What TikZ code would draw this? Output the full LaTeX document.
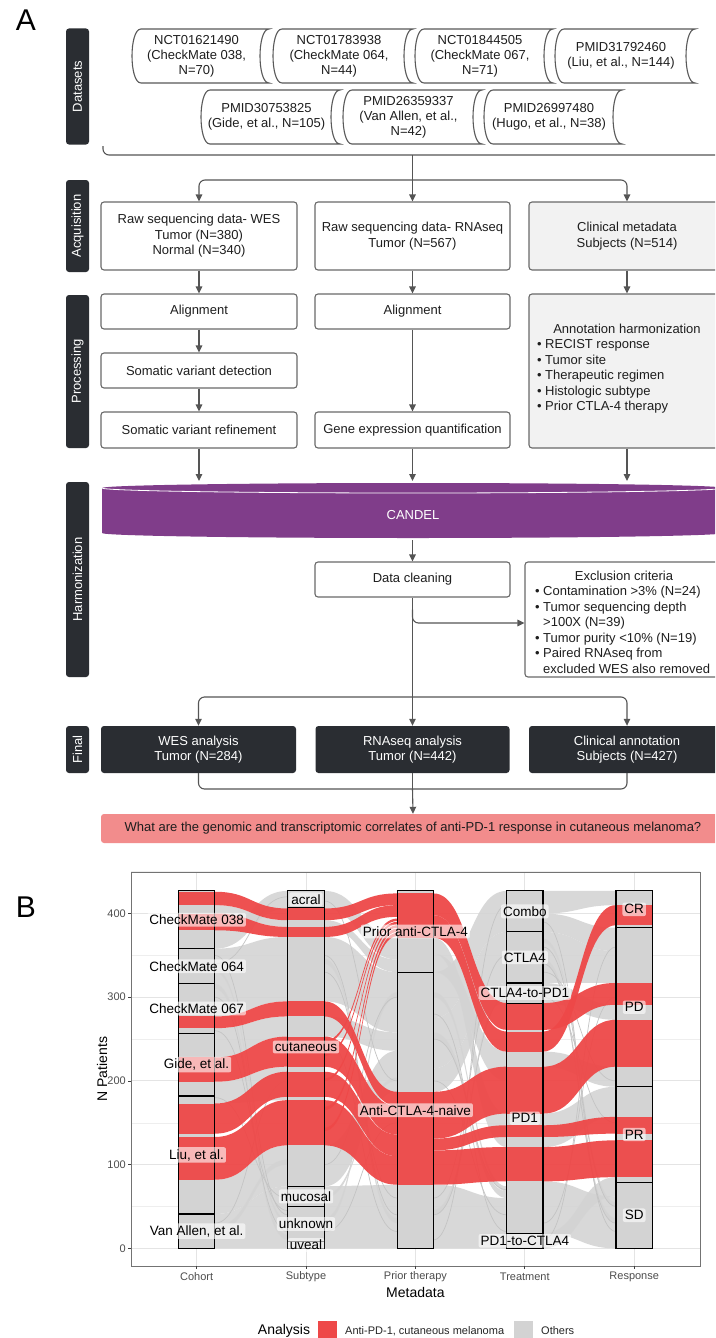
\documentclass[tikz,border=0pt]{standalone}
\usepackage{fontspec}
\setmainfont{Liberation Sans}
\usetikzlibrary{arrows.meta}
\definecolor{dark}{RGB}{42,45,50}
\definecolor{bord}{RGB}{105,105,105}
\definecolor{conncol}{RGB}{85,85,85}
\definecolor{lfill}{RGB}{242,242,242}
\definecolor{candelc}{RGB}{128,61,138}
\definecolor{qpink}{RGB}{242,140,140}
\definecolor{flred}{RGB}{238,72,72}
\definecolor{flgray}{RGB}{211,211,211}
\definecolor{strandc}{RGB}{196,196,196}
\definecolor{gridmajc}{RGB}{228,228,228}
\definecolor{gridminc}{RGB}{238,238,238}
\definecolor{ticktxt}{RGB}{77,77,77}
\definecolor{txt}{RGB}{30,30,30}
\newcommand{\myfs}[2]{\fontsize{#1}{#2}\selectfont}
\newcommand{\mybul}{\makebox[8pt][l]{\textbullet}}
\newcommand{\myind}{\hspace*{8pt}}
% ribbon between two axes: style, x1, x2, a1, b1, a2, b2
\newcommand{\flw}[7]{\fill[#1] (#2,#5) .. controls ({(#2+#3)/2},#5) and ({(#2+#3)/2},#7) .. (#3,#7) -- (#3,#6) .. controls ({(#2+#3)/2},#6) and ({(#2+#3)/2},#4) .. (#2,#4) -- cycle;}
\newcommand{\flA}[5]{\flw{#1}{214.8}{287.8}{#2}{#3}{#4}{#5}}
\newcommand{\flB}[5]{\flw{#1}{324.2}{397.2}{#2}{#3}{#4}{#5}}
\newcommand{\flC}[5]{\flw{#1}{433.6}{506.6}{#2}{#3}{#4}{#5}}
\newcommand{\flD}[5]{\flw{#1}{543.0}{616.0}{#2}{#3}{#4}{#5}}
\newcommand{\strnd}[4]{\draw[gstr] (#1,#3) .. controls ({(#1+#2)/2},#3) and ({(#1+#2)/2},#4) .. (#2,#4);}
% stored-data shape: name, L, R, T, B, text
\newcommand{\dsbox}[6]{%
  \draw[dsline] ({#2+9},#4) -- (#3,#4) .. controls ({#3-12},#4) and ({#3-12},#5) .. (#3,#5) -- ({#2+9},#5) .. controls ({#2-3},#5) and ({#2-3},#4) .. ({#2+9},#4) -- cycle;
  \node[dstext] (#1) at ({(#2+#3)/2-4},{(#4+#5)/2}) {#6};}
\begin{document}
\begin{tikzpicture}[x=1pt,y=-1pt,
  box/.style={draw=bord, line width=1.1pt, rounded corners=3pt, fill=white, align=center, font=\myfs{13}{15.5}, text=txt, inner sep=0pt},
  side/.style={fill=dark, rounded corners=3pt, rotate=90, text=white, font=\myfs{13}{15}, minimum height=23pt, inner sep=0pt},
  fin/.style={fill=dark, rounded corners=3pt, text=white, align=center, font=\myfs{13}{15.5}, inner sep=0pt},
  conn/.style={draw=conncol, line width=1.1pt},
  arr/.style={conn, -{Triangle[length=7pt,width=6.5pt]}},
  dsline/.style={draw=bord!85!black, line width=1.1pt, fill=white},
  dstext/.style={align=center, font=\myfs{13}{15}, text=txt, inner sep=0pt},
  plain/.style={font=\myfs{13}{15.5}, text=txt, inner sep=0pt},
  gfl/.style={fill=flgray, fill opacity=0.88},
  rfl/.style={fill=flred, fill opacity=0.95},
  gstr/.style={draw=strandc, line width=0.7pt},
  strat/.style={draw=black, line width=1.1pt},
  lab/.style={fill=white, fill opacity=0.6, text opacity=1, rounded corners=2pt, inner sep=2pt, font=\myfs{13.5}{15}, text=black},
  gridmaj/.style={draw=gridmajc, line width=0.9pt},
  gridmin/.style={draw=gridminc, line width=0.5pt},
  tick/.style={draw=black!75, line width=0.7pt},
  ticklab/.style={font=\myfs{11}{13}, text=ticktxt, inner sep=0pt}
]
\useasboundingbox (0,0) rectangle (715,1338);
\fill[white] (0,0) rectangle (715,1338);
\clip (0,0) rectangle (715,1338);

% ================= Panel A =================
\node[font=\myfs{30}{32}, inner sep=0pt] (labA) at (26,20) {A};

% side bars
\node[side, minimum width=116pt] (sdata) at (77.5,86.5) {Datasets};
\node[side, minimum width=92pt] (sacq) at (77.5,226) {Acquisition};
\node[side, minimum width=153pt] (sproc) at (77.5,371.5) {Processing};
\node[side, minimum width=195pt] (sharm) at (77.5,579.5) {Harmonization};
\node[side, minimum width=47pt] (sfin) at (77.5,749.5) {Final};

% datasets
\dsbox{ds1}{132}{269}{29}{83}{NCT01621490\\(CheckMate 038,\\N=70)}
\dsbox{ds2}{273}{413}{29}{83}{NCT01783938\\(CheckMate 064,\\N=44)}
\dsbox{ds3}{415}{553}{29}{83}{NCT01844505\\(CheckMate 067,\\N=71)}
\dsbox{ds4}{555}{695}{29}{83}{PMID31792460\\(Liu, et al., N=144)}
\dsbox{ds5}{201}{340}{90}{144}{PMID30753825\\(Gide, et al., N=105)}
\dsbox{ds6}{343}{482}{90}{144}{PMID26359337\\(Van Allen, et al.,\\N=42)}
\dsbox{ds7}{484}{622}{90}{144}{PMID26997480\\(Hugo, et al., N=38)}

% acquisition
\node[box, minimum width=196pt, minimum height=68pt] (wesacq) at (199,236) {Raw sequencing data- WES\\Tumor (N=380)\\Normal (N=340)};
\node[box, minimum width=195pt, minimum height=68pt] (rnaacq) at (412.5,236) {Raw sequencing data- RNAseq\\Tumor (N=567)};
\node[box, fill=lfill, minimum width=196pt, minimum height=68pt] (clinacq) at (627,236) {Clinical metadata\\Subjects (N=514)};

% processing
\node[box, minimum width=196pt, minimum height=35pt] (wesal) at (199,311.5) {Alignment};
\node[box, minimum width=195pt, minimum height=35pt] (rnaal) at (412.5,311.5) {Alignment};
\node[box, minimum width=196pt, minimum height=35pt] (somdet) at (199,370.5) {Somatic variant detection};
\node[box, minimum width=196pt, minimum height=36pt] (somref) at (199,430) {Somatic variant refinement};
\node[box, minimum width=195pt, minimum height=36pt] (geneq) at (412.5,430) {Gene expression quantification};
\node[box, fill=lfill, minimum width=196pt, minimum height=154pt] (annot) at (627,371) {};
\node[plain] (annott) at (627,329) {Annotation harmonization};
\node[plain, anchor=west, align=left] (annotl) at (537,376.5) {\mybul RECIST response\\\mybul Tumor site\\\mybul Therapeutic regimen\\\mybul Histologic subtype\\\mybul Prior CTLA-4 therapy};

% CANDEL
\fill[candelc] (102,488) -- (102,533) arc[start angle=180, end angle=360, x radius=311pt, y radius=5pt] -- (724,488) arc[start angle=0, end angle=180, x radius=311pt, y radius=5pt] -- cycle;
\draw[white, line width=0.8pt] (102,488) arc[start angle=180, end angle=360, x radius=311pt, y radius=5pt];
\node[text=white, font=\myfs{13}{15}, inner sep=0pt] (candel) at (413,515) {CANDEL};
\coordinate (ctop) at (413,481);
\coordinate (cbot) at (412.5,540);

% harmonization
\node[box, minimum width=195pt, minimum height=35pt] (dc) at (412.5,579.5) {Data cleaning};
\node[box, minimum width=205pt, minimum height=115pt] (excl) at (627.5,619.5) {};
\node[plain] (exclt) at (624,576) {Exclusion criteria};
\node[plain, anchor=west, align=left] (excll) at (535,630) {\mybul Contamination >3\% (N=24)\\\mybul Tumor sequencing depth\\\myind >100X (N=39)\\\mybul Tumor purity <10\% (N=19)\\\mybul Paired RNAseq from\\\myind excluded WES also removed};

% final
\node[fin, minimum width=195pt, minimum height=47pt] (wesfin) at (198.5,749.5) {WES analysis\\Tumor (N=284)};
\node[fin, minimum width=194pt, minimum height=47pt] (rnafin) at (412.5,749.5) {RNAseq analysis\\Tumor (N=442)};
\node[fin, minimum width=196pt, minimum height=47pt] (clinfin) at (627,749.5) {Clinical annotation\\Subjects (N=427)};
\node[fill=qpink, rounded corners=3pt, minimum width=624pt, minimum height=29pt, font=\myfs{13}{15}, text=txt, inner sep=0pt] (q) at (413,828.5) {What are the genomic and transcriptomic correlates of anti-PD-1 response in cutaneous melanoma?};

% connectors
\coordinate (brk) at (412.5,155);
\coordinate (dist) at (412.5,180);
\draw[conn, rounded corners=6pt] (103,146) |- (725,155);
\draw[arr] (brk) -- (rnaacq.north);
\draw[arr, rounded corners=6pt] (dist) -| (wesacq.north);
\draw[arr, rounded corners=6pt] (dist) -| (clinacq.north);
\draw[arr] (wesacq.south) -- (wesal.north);
\draw[arr] (rnaacq.south) -- (rnaal.north);
\draw[arr] (clinacq.south) -- (annot.north);
\draw[arr] (wesal.south) -- (somdet.north);
\draw[arr] (somdet.south) -- (somref.north);
\draw[arr] (rnaal.south) -- (geneq.north);
\draw[arr] (somref.south) -- (somref.south |- ctop);
\draw[arr] (geneq.south) -- (geneq.south |- ctop);
\draw[arr] (annot.south) -- (annot.south |- ctop);
\draw[arr] (cbot) -- (dc.north);
\coordinate (hdist) at (412.5,697);
\coordinate (exy) at (0,623);
\draw[conn] (dc.south) -- (hdist);
\draw[arr, rounded corners=6pt] ([yshift=-12pt]dc.south) |- (excl.west |- exy);
\draw[arr] (hdist) -- (rnafin.north);
\draw[arr, rounded corners=6pt] (hdist) -| (wesfin.north);
\draw[arr, rounded corners=6pt] (hdist) -| (clinfin.north);
\coordinate (fm) at (412.5,789);
\draw[conn, rounded corners=6pt] (wesfin.south) |- (fm) -| (clinfin.south);
\draw[conn] (rnafin.south) -- (fm);
\draw[arr] (fm) -- (q.north);

% ================= Panel B =================
\node[font=\myfs{30}{32}, inner sep=0pt] (labB) at (26,907) {B};

\begin{scope}[shift={(0,1248.3)}, y=0.837pt]
  % grid
  \foreach \v in {50,150,250,350,450}{\draw[gridmin] (131,\v) -- (700,\v);}
  \foreach \v in {0,100,200,300,400}{\draw[gridmaj] (131,\v) -- (700,\v);}
  \foreach \xx in {196.6,306,415.4,524.8,634.2}{\draw[gridmaj] (\xx,-21.4) -- (\xx,449.4);}

  % ---- gray flows ----
  \flA{gfl}{0}{41}{0}{74}
  \flA{gfl}{41}{82}{74}{123}
  \flA{gfl}{173}{199}{177}{217}
  \flA{gfl}{228}{263}{253}{277}
  \flA{gfl}{277}{358}{295}{372}
  \flA{gfl}{358}{380}{406}{427}
  \flA{gfl}{400}{410}{384}{392}
  \flA{gfl}{310}{316}{10}{16}
  \flA{gfl}{330}{334}{30}{34}
  \flA{gfl}{20}{26}{100}{106}
  \strnd{214.8}{287.8}{350}{40}
  \strnd{214.8}{287.8}{300}{20}
  \strnd{214.8}{287.8}{340}{420}
  \strnd{214.8}{287.8}{30}{200}
  \strnd{214.8}{287.8}{260}{45}
  \strnd{214.8}{287.8}{180}{60}

  \flB{gfl}{0}{74}{0}{76}
  \flB{gfl}{74}{123}{187}{236}
  \flB{gfl}{253}{277}{236}{258}
  \flB{gfl}{295}{372}{258}{330}
  \flB{gfl}{384}{392}{330}{345}
  \flB{gfl}{406}{427}{345}{371}
  \flB{gfl}{340}{346}{30}{36}
  \flB{gfl}{30}{36}{300}{306}
  \flB{gfl}{60}{64}{200}{204}
  \strnd{324.2}{397.2}{350}{40}
  \strnd{324.2}{397.2}{330}{60}
  \strnd{324.2}{397.2}{100}{300}
  \strnd{324.2}{397.2}{20}{150}
  \strnd{324.2}{397.2}{415}{200}
  \strnd{324.2}{397.2}{250}{20}

  \flC{gfl}{0}{76}{0}{60}
  \flC{gfl}{187}{215}{293}{317}
  \flC{gfl}{215}{275}{317}{378}
  \flC{gfl}{275}{330}{378}{427}
  \flC{gfl}{330}{352}{200}{235}
  \flC{gfl}{352}{371}{121}{161}
  \flC{gfl}{250}{258}{60}{68}
  \flC{gfl}{300}{306}{68}{74}
  \flC{gfl}{40}{46}{300}{306}
  \strnd{433.6}{506.6}{250}{70}
  \strnd{433.6}{506.6}{200}{40}
  \strnd{433.6}{506.6}{60}{350}
  \strnd{433.6}{506.6}{40}{300}
  \strnd{433.6}{506.6}{280}{20}
  \strnd{433.6}{506.6}{10}{410}

  \flD{gfl}{400}{427}{410}{427}
  \flD{gfl}{378}{400}{355}{383}
  \flD{gfl}{317}{378}{317}{355}
  \flD{gfl}{293}{317}{273}{291}
  \flD{gfl}{217}{235}{193}{217}
  \flD{gfl}{121}{161}{157}{193}
  \flD{gfl}{18}{80}{0}{62}
  \flD{gfl}{0}{18}{62}{85}
  \flD{gfl}{340}{346}{30}{36}
  \flD{gfl}{365}{370}{50}{55}
  \strnd{543.0}{616.0}{340}{30}
  \strnd{543.0}{616.0}{360}{50}
  \strnd{543.0}{616.0}{390}{20}
  \strnd{543.0}{616.0}{330}{200}
  \strnd{543.0}{616.0}{30}{300}
  \strnd{543.0}{616.0}{10}{360}
  \strnd{543.0}{616.0}{300}{150}

  % ---- strata fill ----
  \fill[flgray] (178.4,0) rectangle (214.8,427);
  \fill[flgray] (287.8,0) rectangle (324.2,427);
  \fill[flgray] (397.2,0) rectangle (433.6,427);
  \fill[flgray] (506.6,0) rectangle (543.0,427);
  \fill[flgray] (616.0,0) rectangle (652.4,427);

  % ---- red flows ----
  \flA{rfl}{410}{426}{392}{406}
  \flA{rfl}{380}{400}{372}{384}
  \flA{rfl}{263}{277}{277}{295}
  \flA{rfl}{199}{228}{217}{253}
  \flA{rfl}{137}{173}{181}{211}
  \flA{rfl}{82}{133}{123}{177}

  \flB{rfl}{392}{406}{410}{424}
  \flB{rfl}{372}{384}{396}{410}
  \flB{rfl}{277}{295}{170}{187}
  \flB{rfl}{217}{253}{136}{170}
  \flB{rfl}{181}{211}{110}{136}
  \flB{rfl}{123}{177}{76}{110}
  \flB{rfl}{140}{144}{373}{377}
  \flB{rfl}{165}{169}{378}{382}
  \flB{rfl}{200}{203}{383}{386}
  \flB{rfl}{230}{233}{387}{390}
  \flB{rfl}{245}{248}{391}{394}

  \flC{rfl}{398}{424}{261}{293}
  \flC{rfl}{371}{398}{235}{259}
  \flC{rfl}{131}{187}{161}{217}
  \flC{rfl}{117}{131}{133}{147}
  \flC{rfl}{76}{117}{80}{121}

  \flD{rfl}{235}{259}{386}{410}
  \flD{rfl}{261}{293}{291}{317}
  \flD{rfl}{161}{217}{217}{273}
  \flD{rfl}{133}{147}{137}{157}
  \flD{rfl}{80}{121}{85}{129}

  % red lodes in strata
  \foreach \a/\b in {82/133,137/173,199/228,263/277,380/400,410/426}{\fill[rfl] (178.4,\a) rectangle (214.8,\b);}
  \foreach \a/\b in {123/177,181/211,217/253,277/295,372/384,392/406}{\fill[rfl] (287.8,\a) rectangle (324.2,\b);}
  \foreach \a/\b in {76/187,371/424}{\fill[rfl] (397.2,\a) rectangle (433.6,\b);}
  \foreach \a/\b in {80/121,133/147,161/217,235/259,261/293}{\fill[rfl] (506.6,\a) rectangle (543.0,\b);}
  \foreach \a/\b in {85/129,137/157,217/273,291/317,386/410}{\fill[rfl] (616.0,\a) rectangle (652.4,\b);}

  % ---- strata outlines ----
  \draw[strat] (178.4,0) rectangle (214.8,427);
  \foreach \v in {41,182,257,316,358}{\draw[strat] (178.4,\v) -- (214.8,\v);}
  \draw[strat] (287.8,0) rectangle (324.2,427);
  \foreach \v in {8,50,74,407}{\draw[strat] (287.8,\v) -- (324.2,\v);}
  \draw[strat] (397.2,0) rectangle (433.6,427);
  \draw[strat] (397.2,330) -- (433.6,330);
  \draw[strat] (506.6,0) rectangle (543.0,427);
  \foreach \v in {18,293,317,378}{\draw[strat] (506.6,\v) -- (543.0,\v);}
  \draw[strat] (616.0,0) rectangle (652.4,427);
  \foreach \v in {79,193,383}{\draw[strat] (616.0,\v) -- (652.4,\v);}

  % ---- stratum labels ----
  \node[lab] (l1) at (196.6,392.5) {CheckMate 038};
  \node[lab] (l2) at (196.6,337) {CheckMate 064};
  \node[lab] (l3) at (196.6,286.5) {CheckMate 067};
  \node[lab] (l4) at (196.6,219.5) {Gide, et al.};
  \node[lab] (l5) at (196.6,111.5) {Liu, et al.};
  \node[lab] (l6) at (196.6,20.5) {Van Allen, et al.};
  \node[lab] (l7) at (306,417) {acral};
  \node[lab] (l8) at (306,240.5) {cutaneous};
  \node[lab] (l9) at (306,62) {mucosal};
  \node[lab] (l10) at (306,29) {unknown};
  \node[lab] (l11) at (306,4) {uveal};
  \node[lab] (l12) at (415.4,378.5) {Prior anti-CTLA-4};
  \node[lab] (l13) at (415.4,165) {Anti-CTLA-4-naive};
  \node[lab] (l14) at (524.8,402.5) {Combo};
  \node[lab] (l15) at (524.8,347.5) {CTLA4};
  \node[lab] (l16) at (524.8,305) {CTLA4-to-PD1};
  \node[lab] (l17) at (524.8,155.5) {PD1};
  \node[lab] (l18) at (524.8,9) {PD1-to-CTLA4};
  \node[lab] (l19) at (634.2,405) {CR};
  \node[lab] (l20) at (634.2,288) {PD};
  \node[lab] (l21) at (634.2,136) {PR};
  \node[lab] (l22) at (634.2,39.5) {SD};

  % ---- panel border & axes ----
  \draw[draw=black!55, line width=0.8pt] (131,-21.4) rectangle (700,449.4);
  \foreach \v in {0,100,200,300,400}{
    \draw[tick] (128,\v) -- (131,\v);
    \node[ticklab, anchor=east] (yl\v) at (126,\v) {\v};}
  \foreach \xx/\t/\n in {196.6/Cohort/a,306/Subtype/b,415.4/Prior therapy/c,524.8/Treatment/d,634.2/Response/e}{
    \draw[tick] (\xx,-21.4) -- (\xx,-25.0);
    \node[ticklab] (xl\n) at (\xx,-34.3) {\t};}
  \node[font=\myfs{14}{16}, inner sep=0pt] (xtitle) at (415.4,-52.9) {Metadata};
  \node[font=\myfs{14}{16}, inner sep=0pt, rotate=90] (ytitle) at (102,214) {N Patients};
\end{scope}

% legend
\node[font=\myfs{14}{16}, inner sep=0pt] (legt) at (284,1331) {Analysis};
\fill[flred] (318,1321) rectangle (337,1340);
\node[ticklab, text=black!85, anchor=west] (leg1) at (345,1331) {Anti-PD-1, cutaneous melanoma};
\fill[flgray] (514,1321) rectangle (533,1340);
\node[ticklab, text=black!85, anchor=west] (leg2) at (541,1331) {Others};
\end{tikzpicture}
\end{document}
